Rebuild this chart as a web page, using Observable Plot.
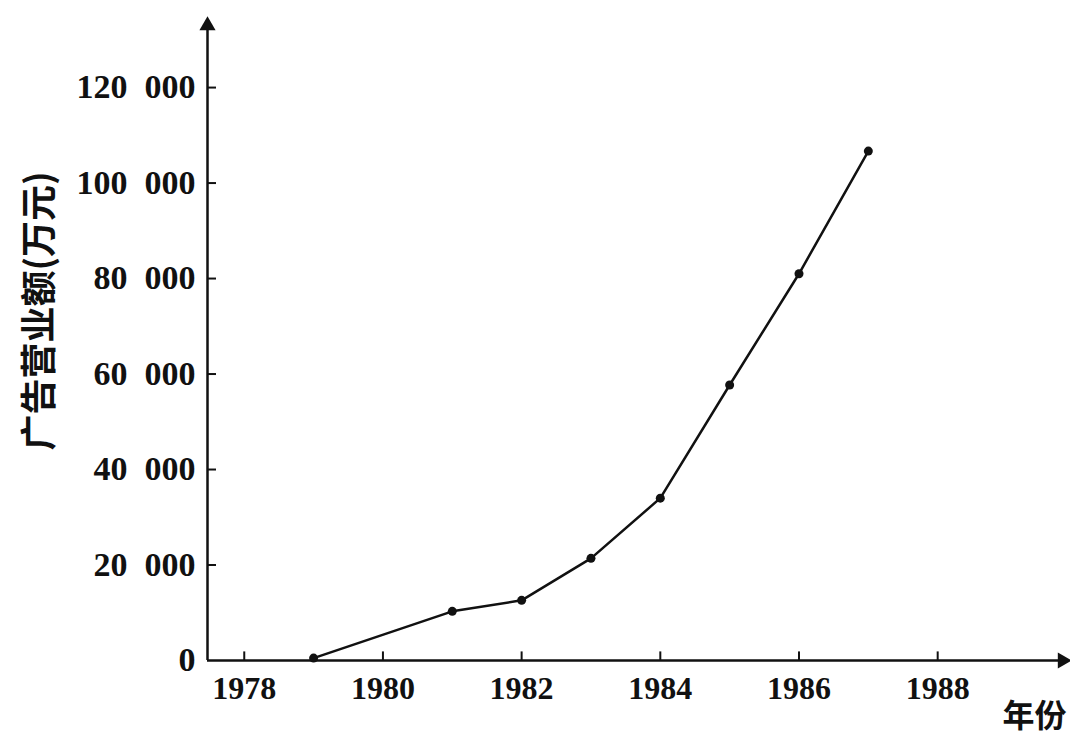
<!DOCTYPE html>
<html><head><meta charset="utf-8">
<script src="https://cdn.jsdelivr.net/npm/d3@7"></script>
<script src="https://cdn.jsdelivr.net/npm/@observablehq/plot@0.6"></script>
<style>body{margin:0;background:#fff;}</style>
</head><body><div id="chart"></div>
<script>
const years = [1979, 1981, 1982, 1983, 1984, 1985, 1986, 1987];
const revenue = [500, 10300, 12600, 21400, 34000, 57700, 81000, 106700];
const yTicks = [0, 20000, 40000, 60000, 80000, 100000, 120000];
const xTicks = [1978, 1980, 1982, 1984, 1986, 1988];
const yLabel = "广告营业额(万元)";
const xLabel = "年份";

const data = years.map((y, i) => ({year: y, value: revenue[i]}));
const xMin = 1977.47, xMax = 1989.8, yMax = 133000;
const serif = "'Liberation Serif', 'DejaVu Serif', serif";
const cjk = "'Noto Sans CJK SC', sans-serif";
const fmt = d => d3.format(",")(d).replace(/,/g, "\u00a0\u00a0");

const chart = Plot.plot({
  width: 1070,
  height: 739,
  marginLeft: 207,
  marginRight: 8,
  marginTop: 25,
  marginBottom: 79,
  style: {background: "#fff", color: "#111"},
  x: {domain: [xMin, xMax]},
  y: {domain: [0, yMax]},
  marks: [
    Plot.axisY(yTicks, {tickSize: 0, tickPadding: 12, tickFormat: fmt, fontSize: 34, fontFamily: serif, fontWeight: "bold", label: null}),
    Plot.axisX(xTicks, {tickSize: 0, tickPadding: 16, tickFormat: d => String(d), fontSize: 32, fontFamily: serif, fontWeight: "bold", label: null}),
    // y axis label
    Plot.text([yLabel], {frameAnchor: "left", textAnchor: "middle", text: d => d, rotate: -90, dx: -167, dy: -32, fontSize: 36, letterSpacing: 3, fontFamily: cjk, fontWeight: "bold", fill: "#111"}),
    // axis lines
    Plot.ruleX([xMin], {y1: 0, y2: yMax, stroke: "#111", strokeWidth: 2.5}),
    Plot.ruleY([0], {x1: xMin, x2: xMax, stroke: "#111", strokeWidth: 2.5}),
    // tick marks (inside)
    Plot.ruleY(yTicks.filter(d => d > 0), {x1: xMin, x2: xMin + 0.13, stroke: "#111", strokeWidth: 2}),
    Plot.ruleX(xTicks, {y1: 0, y2: 1800, stroke: "#111", strokeWidth: 2}),
    // arrowheads
    Plot.dot([{x: xMin, y: yMax}], {x: "x", y: "y", symbol: "triangle", r: 6, fill: "#111", stroke: null}),
    Plot.dot([{x: xMax, y: 0}], {x: "x", y: "y", symbol: "triangle", r: 6, fill: "#111", stroke: null, rotate: 90}),
    // x axis label
    Plot.text([xLabel], {x: xMax, y: 0, text: d => d, dy: 56, dx: 4, textAnchor: "end", fontSize: 32, fontFamily: cjk, fontWeight: "bold", fill: "#111"}),
    // data
    Plot.line(data, {x: "year", y: "value", stroke: "#111", strokeWidth: 2.5}),
    Plot.dot(data, {x: "year", y: "value", r: 4.5, fill: "#111", stroke: null})
  ]
});
document.getElementById("chart").appendChild(chart);
</script>
</body></html>
